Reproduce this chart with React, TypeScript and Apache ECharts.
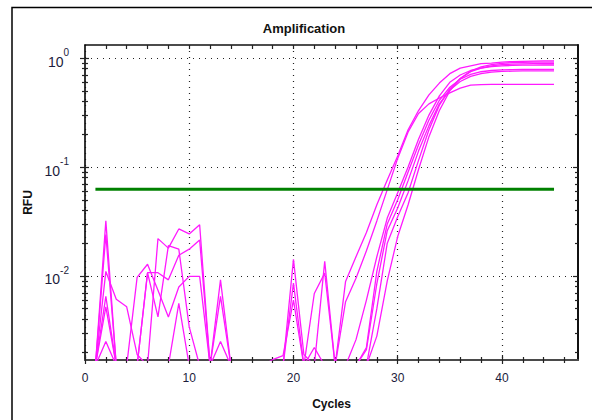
import React, { useEffect, useRef } from 'react';
import * as echarts from 'echarts';

// ---- data ----
const cycles = [1, 2, 3, 4, 5, 6, 7, 8, 9, 10, 11, 12, 13, 14, 15, 16, 17, 18, 19, 20, 21, 22, 23, 24, 25, 26, 27, 28, 29, 30, 31, 32, 33, 34, 35, 36, 37, 38, 39, 40, 41, 42, 43, 44, 45];
const F = 0.0015; // below the plotted floor

const well1 = [F, 0.032, F, F, F, 0.0107, 0.0107, 0.0092, 0.0155, 0.0176, 0.0214, F, 0.0092, F, F, F, F, F, F, 0.0142, 0.0019, F, 0.0136, F, 0.0089, 0.015, 0.025, 0.045, 0.076, 0.126, 0.22, 0.33, 0.46, 0.59, 0.72, 0.81, 0.85, 0.89, 0.9, 0.92, 0.93, 0.935, 0.94, 0.944, 0.944];
const well2 = [F, 0.024, F, F, 0.0097, 0.0128, 0.0074, 0.0042, 0.0079, 0.0099, 0.0099, F, F, F, F, F, F, F, F, 0.0086, F, 0.0069, 0.0106, F, 0.0058, 0.0095, 0.017, 0.032, 0.062, 0.12, 0.21, 0.31, 0.38, 0.43, 0.48, 0.53, 0.565, 0.572, 0.574, 0.574, 0.574, 0.574, 0.574, 0.574, 0.574];
const well3 = [F, 0.011, 0.0061, 0.0052, 0.0019, F, 0.022, 0.018, 0.027, 0.0243, 0.0295, F, 0.0065, F, F, F, F, F, F, F, F, F, F, F, F, 0.0026, 0.006, 0.015, 0.034, 0.058, 0.1, 0.18, 0.3, 0.45, 0.6, 0.7, 0.77, 0.81, 0.835, 0.85, 0.857, 0.861, 0.864, 0.865, 0.865];
const well4 = [F, 0.0065, F, F, F, 0.0107, 0.0042, 0.019, 0.0176, 0.0034, F, F, F, F, F, F, F, F, F, F, F, F, F, F, F, F, 0.0022, 0.011, 0.03, 0.05, 0.09, 0.16, 0.27, 0.41, 0.54, 0.64, 0.71, 0.75, 0.77, 0.78, 0.785, 0.788, 0.79, 0.79, 0.79];
const well5 = [F, 0.0052, F, F, F, F, F, F, 0.0056, F, F, F, 0.0025, F, F, F, F, F, F, F, F, F, F, F, F, F, 0.0021, 0.0085, 0.026, 0.042, 0.075, 0.14, 0.24, 0.38, 0.51, 0.61, 0.68, 0.72, 0.745, 0.755, 0.76, 0.765, 0.765, 0.765, 0.765];
const well6 = [F, 0.0025, F, F, F, F, F, F, F, F, F, F, F, F, F, F, F, 0.0017, 0.00185, 0.006, F, F, F, F, F, F, F, 0.005, 0.02, 0.035, 0.058, 0.115, 0.22, 0.37, 0.52, 0.65, 0.75, 0.81, 0.85, 0.87, 0.88, 0.885, 0.89, 0.89, 0.89];
const well7 = [F, F, F, F, F, F, F, F, F, F, F, F, F, F, F, F, F, F, F, F, F, 0.0022, F, F, F, F, F, 0.0028, 0.009, 0.023, 0.045, 0.095, 0.19, 0.33, 0.5, 0.65, 0.76, 0.83, 0.87, 0.895, 0.91, 0.915, 0.92, 0.92, 0.92];
const wells = [well1, well2, well3, well4, well5, well6, well7];

const threshold = 0.0624;
const thresholdCycles = [1, 45];

const xRange = [0, 47.3];
const yRange = [0.00169, 1.32];
const xMajorTicks = [0, 10, 20, 30, 40];
const xMinorTicks = [2, 4, 6, 8, 12, 14, 16, 18, 22, 24, 26, 28, 32, 34, 36, 38, 42, 44, 46];
const xTopTicks = [2, 4, 6, 8, 10, 12, 14, 16, 18, 20, 22, 24, 26, 28, 30, 32, 34, 36, 38, 40, 42, 44, 46];
const yMajorValues = [0.01, 0.1, 1];
const yMinorValues = [0.002, 0.003, 0.004, 0.005, 0.006, 0.007, 0.008, 0.009, 0.02, 0.03, 0.04, 0.05, 0.06, 0.07, 0.08, 0.09, 0.2, 0.3, 0.4, 0.5, 0.6, 0.7, 0.8, 0.9];

const FONT = '"Liberation Sans", Arial, sans-serif';
const lg = (v: number) => Math.log10(v);

export default function App() {
  const ref = useRef<HTMLDivElement>(null);
  useEffect(() => {
    if (!ref.current) return;
    const chart = echarts.init(ref.current, undefined, { renderer: 'svg' });
    const tickStyle = { color: '#222', width: 1.2 };
    const dotted = { color: '#222', width: 1.2, type: [1, 5] as any };
    const yMaj = yMajorValues.map(lg);
    const yMin = yMinorValues.map(lg);
    const xBase = { type: 'value', min: xRange[0], max: xRange[1], gridIndex: 0 };
    const yBase = { type: 'value', min: lg(yRange[0]), max: lg(yRange[1]), gridIndex: 0 };
    const noLine = { show: false, onZero: false };
    const tickAxisX = (vals: number[], len: number, inside: boolean, pos: string) => ({
      ...xBase, position: pos, axisLine: noLine,
      axisTick: { show: true, inside, length: len, customValues: vals, lineStyle: tickStyle },
      axisLabel: { show: false }, splitLine: { show: false },
    });
    const tickAxisY = (vals: number[], len: number, inside: boolean, pos: string) => ({
      ...yBase, position: pos, axisLine: noLine,
      axisTick: { show: true, inside, length: len, customValues: vals, lineStyle: tickStyle },
      axisLabel: { show: false }, splitLine: { show: false },
    });
    chart.setOption({
      animation: false,
      title: {
        text: 'Amplification', left: 299, top: 17, textAlign: 'center',
        textStyle: { fontSize: 13, fontWeight: 'bold', color: '#111', fontFamily: FONT },
      },
      grid: { left: 85, right: 14, top: 45, bottom: 60, containLabel: false, outerBoundsMode: 'none' },
      xAxis: [
        {
          ...xBase, position: 'bottom',
          axisLine: { show: true, onZero: false, lineStyle: { color: '#4a4a4a', width: 2 } },
          axisTick: { show: true, length: 4, customValues: xMajorTicks, lineStyle: tickStyle },
          axisLabel: { customValues: xMajorTicks, margin: 12, fontSize: 12, color: '#1c1c3c', fontFamily: FONT },
          splitLine: { show: true, lineStyle: dotted },
          name: 'Cycles', nameLocation: 'middle', nameGap: 38,
          nameTextStyle: { fontSize: 12, fontWeight: 'bold', color: '#111', fontFamily: FONT },
        },
        tickAxisX(xMajorTicks, 5, true, 'bottom'),
        tickAxisX(xMinorTicks, 3, false, 'bottom'),
        tickAxisX(xMinorTicks, 3, true, 'bottom'),
        {
          ...xBase, position: 'top',
          axisLine: { show: true, onZero: false, lineStyle: { color: '#111', width: 1.5 } },
          axisTick: { show: true, inside: true, length: 4, customValues: xTopTicks, lineStyle: tickStyle },
          axisLabel: { show: false }, splitLine: { show: false },
        },
      ],
      yAxis: [
        {
          ...yBase, position: 'left',
          axisLine: { show: true, onZero: false, lineStyle: { color: '#111', width: 1.7 } },
          axisTick: { show: true, length: 5, customValues: yMaj, lineStyle: tickStyle },
          axisLabel: {
            customValues: yMaj, margin: 16, color: '#1c1c3c', fontFamily: FONT,
            formatter: (v: number) => `{b|10}{s|${Math.round(v)}}`,
            rich: {
              b: { fontSize: 14, fontFamily: FONT, color: '#1c1c3c', padding: [7, 0, 0, 0] },
              s: { fontSize: 10, fontFamily: FONT, color: '#1c1c3c', padding: [0, 0, 11, 0] },
            },
          },
          splitLine: { show: true, lineStyle: dotted },
          name: 'RFU', nameLocation: 'middle', nameGap: 48, nameRotate: 90,
          nameTextStyle: { fontSize: 12, fontWeight: 'bold', color: '#111', fontFamily: FONT },
        },
        tickAxisY(yMaj, 4, true, 'left'),
        tickAxisY(yMin, 3, false, 'left'),
        tickAxisY(yMin, 3, true, 'left'),
        {
          ...yBase, position: 'right',
          axisLine: { show: true, onZero: false, lineStyle: { color: '#111', width: 2 } },
          axisTick: { show: true, inside: true, length: 5, customValues: yMaj, lineStyle: tickStyle },
          axisLabel: { show: false }, splitLine: { show: false },
        },
        tickAxisY(yMin, 3, true, 'right'),
      ],
      graphic: [
        {
          type: 'rect', x: 0, y: 0,
          shape: { x: 12, y: 7.5, width: 640, height: 480 },
          style: { fill: 'none', stroke: '#000', lineWidth: 1.5 },
          silent: true,
        },
      ],
      series: [
        ...wells.map((w, i) => ({
          type: 'line', name: `Well ${i + 1}`, xAxisIndex: 0, yAxisIndex: 0,
          data: w.map((v, j) => [cycles[j], lg(v)]),
          symbol: 'none', showSymbol: false, clip: true, silent: true,
          lineStyle: { color: '#ff1aff', width: 1.3 }, itemStyle: { color: '#ff1aff' },
        })),
        {
          type: 'line', name: 'Threshold', xAxisIndex: 0, yAxisIndex: 0,
          data: thresholdCycles.map((c) => [c, lg(threshold)]),
          symbol: 'none', showSymbol: false, silent: true,
          lineStyle: { color: '#008000', width: 3 }, itemStyle: { color: '#008000' },
        },
      ],
    });
    return () => chart.dispose();
  }, []);
  return <div ref={ref} style={{ position: 'fixed', left: 0, top: 0, width: 592, height: 420, background: '#fff' }} />;
}
